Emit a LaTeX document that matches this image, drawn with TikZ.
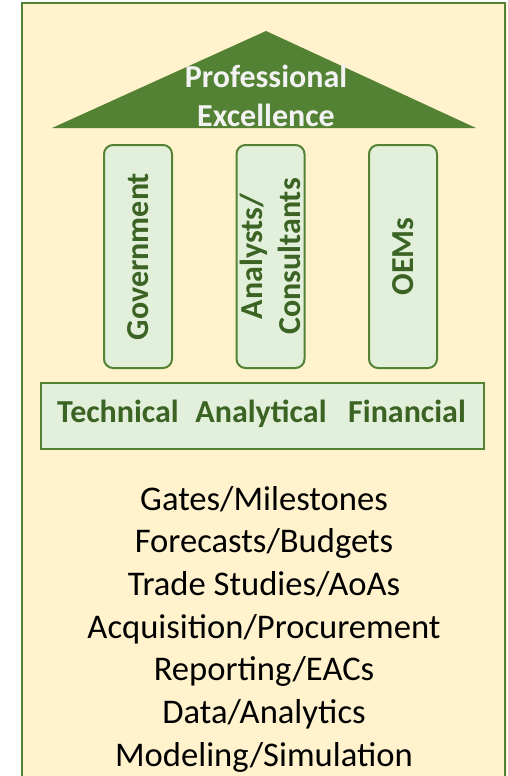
\documentclass[tikz,border=0pt]{standalone}
\usepackage{fontspec}
\setmainfont{Carlito}
\usepackage{xcolor}
\usetikzlibrary{positioning}

\definecolor{bggold}{HTML}{FFF2CC}
\definecolor{roofgreen}{HTML}{548235}
\definecolor{pillarfill}{HTML}{E2EFDA}
\definecolor{textgreen}{HTML}{3B6324}

\begin{document}
\begin{tikzpicture}[x=1pt,y=-1pt,
    pillar/.style={draw=roofgreen, fill=pillarfill, line width=2pt,
        rounded corners=9pt, minimum width=223pt, minimum height=68pt,
        inner sep=0pt, rotate=90, align=center, text=textgreen,
        font=\fontsize{32}{38}\selectfont\bfseries},
    basetext/.style={anchor=base, text=textgreen, inner sep=0pt,
        font=\fontsize{32}{38}\selectfont\bfseries},
    tasktext/.style={anchor=base, inner sep=0pt,
        font=\fontsize{34.6}{42}\selectfont}]

\useasboundingbox (0,0) rectangle (507,776);

% Frame
\fill[bggold] (22,3) rectangle (507,790);
\draw[roofgreen, line width=2.5pt] (22,790) -- (22,3) -- (505,3) -- (505,790);

% Roof
\coordinate (apex) at (266,31);
\coordinate (eaveL) at (52,128);
\coordinate (eaveR) at (476,128);
\fill[roofgreen] (eaveL) -- (apex) -- (eaveR) -- cycle;
\node[align=center, text=white!95!black, inner sep=0pt,
    font=\fontsize{32}{39}\selectfont\bfseries]
    (roof) at (266,96) {Professional\\Excellence};

% Pillars
\node[pillar] (gov) at (138,256.5) {Government};
\node[pillar] (ana) at (270.5,256.5) {Analysts/\\Consultants};
\node[pillar] (oem) at (403,256.5) {OEMs};

% Foundation
\draw[roofgreen, fill=pillarfill, line width=2pt] (41,383) rectangle (484,449);
\node[basetext] (tech) at (118,422) {Technical};
\node[basetext] (anal) at (261,422) {Analytical};
\node[basetext] (fin) at (407,422) {Financial};

% Tasks
\foreach \task [count=\i from 0] in {Gates/Milestones, Forecasts/Budgets,
    Trade Studies/AoAs, Acquisition/Procurement, Reporting/EACs,
    Data/Analytics, Modeling/Simulation}
    \node[tasktext] (task\i) at (264,510+42.7*\i) {\task};

\end{tikzpicture}
\end{document}
